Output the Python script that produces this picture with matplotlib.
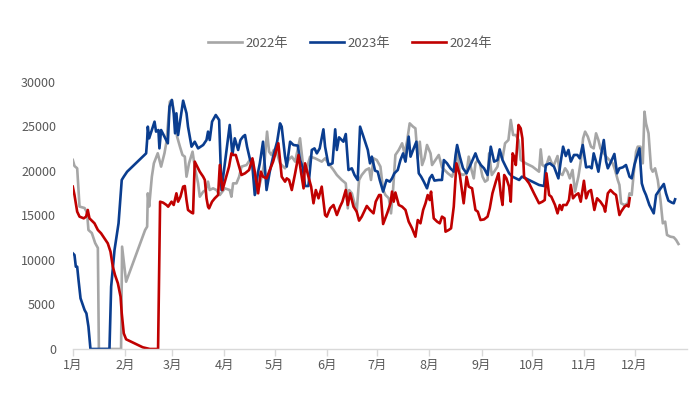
import matplotlib
matplotlib.use("Agg")
import matplotlib.pyplot as plt

plt.rcParams['font.family'] = ['Noto Sans CJK SC', 'DejaVu Sans']

# ---- data (x = day of year, y = value) ----
days_2022 = [0, 1.0, 2.6, 4.0, 7.0, 8.5, 9.3, 11.3, 13.3, 14.9, 15.5, 28.7, 29.3, 31.7, 43.0, 44.2, 44.6, 45.4,
             47.0, 48.2, 50.5, 52.5, 54.5, 55.7, 57.7, 58.9, 61.2, 62.0, 63.7, 65.2, 66.6, 67.6, 69.1, 71.2, 72.5,
             74.5, 75.5, 77.5, 79.1, 80.4, 81.4, 83.4, 85.4, 87.4, 90.4, 93.3, 94.3, 95.3, 97.3, 98.9, 100.3, 103.3,
             105.2, 107.2, 108.8, 110.8, 112.8, 114.1, 115.5, 116.7, 118.1, 119.5, 121.1, 123.2, 126.2, 128.2, 130.2,
             132.2, 135.1, 137.2, 139.1, 141.1, 144.1, 148.0, 150.0, 152.0, 155.0, 157.0, 159.9, 162.3, 163.5, 164.3,
             165.9, 167.5, 168.8, 170.2, 171.8, 174.2, 176.2, 177.3, 178.8, 180.7, 182.9, 184.5, 185.9, 187.9, 189.2,
             190.4, 191.8, 193.8, 195.8, 197.2, 198.7, 200.3, 202.3, 203.7, 205.1, 206.3, 207.7, 209.1, 210.6, 212.7,
             213.6, 215.6, 217.6, 219.5, 221.0, 223.0, 225.5, 227.0, 228.5, 230.1, 232.0, 234.1, 235.4, 236.8, 238.4,
             239.4, 240.8, 242.0, 243.6, 245.1, 246.6, 247.5, 249.1, 250.5, 252.5, 253.8, 255.5, 257.0, 259.0, 260.4,
             261.8, 263.4, 265.0, 266.3, 269.3, 273.3, 277.2, 278.2, 279.2, 281.2, 283.2, 284.8, 286.1, 288.2, 289.5,
             291.1, 292.7, 294.1, 295.5, 297.1, 298.6, 300.6, 302.0, 303.4, 304.6, 306.2, 308.1, 309.7, 311.1, 312.5,
             313.7, 315.1, 317.1, 319.1, 321.0, 322.4, 324.0, 325.0, 326.0, 328.0, 330.0, 331.0, 332.3, 333.5, 334.9,
             335.9, 337.5, 338.9, 339.9, 340.8, 342.3, 343.8, 344.8, 346.2, 347.8, 349.4, 350.8, 352.2, 353.3, 355.3,
             357.3, 358.7, 360.1]
vals_2022 = [21240, 20560, 20300, 16000, 15840, 15280, 13370, 13030, 11900, 11350, 0, 0, 11500, 7560, 13370, 13740,
             17490, 16000, 19360, 20860, 21990, 20490, 21990, 23300, 27790, 27975, 25500, 23860, 22730, 21800, 21610,
             19360, 20860, 22170, 20490, 18610, 17110, 17670, 17860, 18800, 17860, 18050, 17860, 17300, 18050, 17860,
             17110, 18610, 18610, 19360, 20490, 20670, 21230, 21050, 17490, 18240, 19740, 21230, 24420, 22170, 21800,
             22360, 22170, 20860, 20300, 21240, 21610, 21050, 23670, 20110, 20300, 21610, 21420, 21050, 21420, 20860,
             20110, 19550, 18990, 18610, 15800, 17860, 17490, 16370, 15430, 18990, 19550, 20110, 20300, 18990, 21420,
             21240, 20490, 17860, 17300, 16930, 15240, 17860, 21800, 22360, 23110, 21980, 23290, 25350, 24980, 24790,
             21420, 23290, 20670, 21420, 22920, 21980, 20670, 21230, 21800, 20410, 20110, 19740, 19360, 20300, 22540,
             19740, 19550, 19740, 21610, 20300, 19170, 20860, 21230, 20860, 19360, 18800, 18990, 21980, 19550, 19920,
             20490, 21980, 21420, 23110, 23480, 25730, 24040, 24040, 23480, 21230, 20860, 20490, 19920, 22430, 20670,
             20410, 21610, 20860, 20670, 21680, 19740, 19550, 20300, 19920, 19170, 20110, 17680, 19360, 21050, 23670,
             24420, 23860, 22730, 22540, 24230, 23480, 22540, 22170, 21610, 21230, 20860, 20110, 18990, 18430, 16370,
             16180, 16370, 17490, 17300, 19740, 22170, 22730, 22730, 20860, 26660, 25350, 24230, 20300, 19920, 20300,
             18990, 16740, 14120, 14310, 12810, 12620, 12550, 12250, 11800]

days_2023 = [0, 1.0, 1.8, 2.6, 3.4, 4.6, 7.0, 8.1, 9.3, 10.5, 21.8, 22.8, 24.8, 27.2, 29.1, 30.3, 32.3, 43.6, 44.2,
             44.6, 45.4, 47.0, 48.6, 49.5, 50.9, 51.5, 52.5, 54.5, 56.5, 57.5, 58.9, 60.0, 60.8, 61.6, 62.6, 65.6,
             67.6, 68.5, 70.6, 72.5, 74.5, 77.5, 79.5, 80.4, 81.4, 82.8, 85.0, 87.0, 88.4, 90.4, 93.3, 94.9, 96.3,
             98.3, 99.7, 101.2, 102.4, 103.6, 105.2, 106.8, 108.2, 110.2, 111.2, 113.1, 115.2, 117.1, 119.1, 121.5,
             123.2, 124.2, 126.2, 127.2, 129.2, 131.2, 133.8, 135.1, 136.7, 138.1, 140.1, 142.1, 143.7, 145.1, 146.8,
             149.0, 150.0, 152.0, 154.4, 156.0, 157.0, 158.3, 160.9, 162.3, 163.9, 165.9, 167.5, 169.4, 170.8, 172.8,
             175.4, 176.7, 177.8, 179.7, 181.3, 182.5, 184.5, 186.5, 188.5, 189.8, 191.2, 193.2, 194.8, 196.4, 197.8,
             199.7, 200.8, 202.3, 204.3, 205.7, 207.1, 208.7, 210.6, 212.2, 213.6, 215.0, 217.6, 219.5, 220.6, 222.5,
             224.5, 226.5, 227.6, 228.5, 230.1, 232.0, 234.1, 236.4, 239.4, 240.8, 242.6, 244.5, 246.6, 248.5, 250.5,
             252.5, 253.8, 255.5, 257.4, 259.4, 261.4, 263.4, 265.4, 267.0, 269.3, 273.3, 277.2, 280.2, 281.2, 283.6,
             286.1, 288.7, 290.1, 291.5, 293.1, 294.7, 296.1, 298.0, 300.0, 301.4, 303.2, 305.2, 307.2, 308.5, 309.7,
             311.1, 312.5, 314.1, 315.7, 317.1, 318.1, 320.0, 322.0, 323.6, 325.0, 327.0, 328.9, 331.0, 332.3, 333.9,
             335.3, 336.9, 338.3, 339.5, 340.8, 342.8, 345.4, 346.8, 348.8, 351.4, 352.7, 354.1, 356.1, 357.3, 358.1]
vals_2023 = [10748, 10560, 9250, 9250, 7750, 5690, 4380, 4000, 2510, 0, 0, 7000, 11120, 14120, 18990, 19360, 19920,
             21980, 23480, 24980, 23670, 24600, 25540, 24420, 24600, 22540, 24600, 23860, 23110, 27230, 27975, 26480,
             24230, 26480, 24040, 27900, 26480, 24980, 22730, 23290, 22540, 22920, 23480, 24420, 23480, 25540, 26290,
             25730, 17860, 20860, 25170, 21800, 23670, 22360, 23480, 23860, 24040, 22730, 21420, 20490, 17300, 19920,
             20860, 23290, 17860, 19920, 21610, 23300, 25350, 24980, 21610, 20490, 23290, 22920, 22850, 21240, 20410,
             18310, 18310, 22360, 22540, 21980, 22540, 24680, 22730, 20670, 20860, 24680, 22360, 23780, 23290, 24150,
             20110, 20300, 19550, 18990, 24980, 23860, 22360, 20860, 21610, 20040, 19920, 18990, 17680, 18990, 18800,
             19170, 19740, 20110, 21230, 21980, 21050, 23860, 21610, 22360, 23290, 19740, 19360, 18800, 18050, 19170,
             19550, 18920, 18990, 18990, 21230, 20860, 20300, 19920, 21800, 22920, 21610, 20300, 19740, 20670, 21980,
             21230, 20670, 20300, 19550, 22730, 21050, 21230, 22430, 21230, 20490, 19740, 19360, 19170, 18990, 19360,
             19170, 18800, 18430, 18310, 20670, 20860, 20490, 19170, 21050, 22730, 21680, 22360, 21050, 21800, 21800,
             21420, 22920, 20410, 20490, 20300, 21980, 21050, 19920, 21800, 23480, 21050, 20300, 21050, 21910, 19740,
             20300, 20410, 20670, 19360, 19170, 20670, 21610, 22540, 18610, 17860, 17300, 16180, 15240, 17300, 17860,
             18540, 17490, 16670, 16450, 16370, 16820]

days_2024 = [0, 1.0, 2.6, 4.0, 6.5, 7.9, 8.9, 9.9, 12.9, 14.9, 16.8, 18.8, 20.8, 22.4, 23.8, 25.1, 26.8, 28.4, 29.1,
             30.3, 31.7, 36.7, 41.6, 45.8, 50.7, 51.9, 53.7, 55.7, 56.7, 58.7, 60.0, 61.6, 62.6, 64.0, 65.6, 66.6,
             67.6, 68.5, 70.6, 71.5, 72.5, 75.5, 77.5, 78.5, 79.5, 80.4, 81.0, 82.8, 84.4, 86.4, 87.4, 89.0, 90.4,
             92.9, 94.3, 95.3, 96.9, 98.3, 100.3, 102.4, 104.8, 106.8, 108.2, 110.2, 111.8, 113.1, 115.2, 117.1,
             119.1, 120.8, 122.2, 123.3, 124.2, 126.2, 127.2, 128.6, 130.2, 132.2, 134.2, 135.8, 137.2, 138.1, 140.1,
             141.7, 143.1, 144.5, 146.1, 148.0, 150.0, 151.0, 153.0, 155.0, 157.0, 158.9, 160.3, 162.3, 163.5, 164.9,
             166.9, 168.8, 170.2, 171.8, 174.8, 176.7, 178.8, 180.1, 182.1, 183.1, 184.5, 186.9, 188.9, 189.8, 190.8,
             191.8, 193.8, 195.8, 197.8, 199.7, 201.7, 203.7, 205.1, 206.7, 208.3, 209.7, 211.0, 212.2, 213.0, 214.6,
             216.6, 218.2, 219.5, 221.0, 221.6, 223.5, 224.9, 226.5, 228.1, 230.1, 232.4, 234.1, 235.4, 237.4, 239.4,
             240.8, 242.4, 244.5, 246.6, 247.9, 249.5, 251.5, 253.1, 254.5, 255.5, 256.5, 257.8, 259.4, 260.4, 261.5,
             262.4, 263.4, 265.0, 266.3, 267.3, 268.3, 271.3, 274.2, 277.2, 279.2, 280.6, 281.6, 283.2, 284.5, 286.7,
             288.2, 289.5, 290.7, 291.5, 293.5, 295.0, 296.1, 297.4, 299.0, 300.6, 302.0, 303.9, 305.2, 306.6, 308.1,
             309.1, 310.1, 311.7, 313.7, 315.7, 316.5, 318.1, 319.7, 321.6, 323.0, 324.0, 325.0, 326.0, 328.0, 329.6,
             330.4, 331.1]
vals_2024 = [18240, 17300, 15430, 14870, 14680, 14870, 15620, 14680, 14120, 13370, 13000, 12430, 11870, 10940, 9250,
             8310, 7380, 5880, 4010, 1760, 1090, 640, 190, 0, 0, 16550, 16440, 16180, 15990, 16550, 16180, 17490, 16550,
             17110, 18240, 18310, 16740, 15620, 15320, 15240, 21050, 19920, 19360, 18990, 16930, 15990, 15800, 16550,
             16930, 17300, 20670, 17860, 18800, 20490, 21980, 21800, 21800, 20860, 19550, 19740, 20110, 21420, 19920,
             17490, 19920, 19360, 19170, 20110, 21050, 22170, 23110, 21050, 19360, 18800, 19170, 18990, 17860, 19740,
             21800, 19740, 18050, 20860, 19360, 18240, 16370, 17860, 16930, 18240, 15050, 14870, 15800, 16180, 15050,
             15990, 16550, 17860, 16180, 17490, 15990, 15430, 14420, 14870, 16070, 15620, 15240, 16550, 17300, 17300,
             14040, 15240, 16370, 17680, 16550, 17580, 16180, 15990, 15620, 14310, 13560, 12620, 14490, 14120, 15620,
             16370, 17300, 16740, 17680, 14680, 14310, 14120, 14870, 14680, 13180, 13370, 13560, 15990, 20860, 19550,
             16370, 19360, 18240, 18050, 15620, 15430, 14490, 14560, 14870, 15800, 17490, 18800, 19740, 17300, 16180,
             19550, 19170, 18240, 16550, 21980, 21610, 20670, 25170, 24790, 23670, 19360, 18610, 17490, 16370, 16550,
             16740, 19740, 17300, 17110, 16180, 15240, 16180, 15620, 16180, 16180, 16740, 18430, 16930, 17300, 17490,
             16550, 18900, 16930, 17680, 17860, 16740, 15620, 16930, 16550, 15990, 15430, 17490, 17860, 17490, 17300,
             16180, 15050, 15430, 15990, 16180, 16000, 16930]

month_starts = [0, 31, 59, 90, 120, 151, 181, 212, 243, 273, 304, 334]
month_labels = ['1月', '2月', '3月', '4月', '5月', '6月', '7月', '8月', '9月', '10月', '11月', '12月']
y_ticks = [0, 5000, 10000, 15000, 20000, 25000, 30000]
series_names = ['2022年', '2023年', '2024年']
series_colors = ['#A6A6A6', '#0A3D8F', '#C00000']

fig = plt.figure(figsize=(7.0, 3.96), dpi=100)
ax = fig.add_axes([0.104, 0.1187, 0.877, 0.6743])

for d, v, name, c in zip([days_2022, days_2023, days_2024],
                         [vals_2022, vals_2023, vals_2024],
                         series_names, series_colors):
    ax.plot(d, v, color=c, lw=1.9, label=name, solid_joinstyle='round')

ax.set_xlim(0, 365)
ax.set_ylim(0, 30000)
ax.set_xticks(month_starts)
ax.set_xticklabels(month_labels)
ax.set_yticks(y_ticks)
ax.set_yticklabels([str(t) for t in y_ticks])

for s in ['top', 'right', 'left']:
    ax.spines[s].set_visible(False)
ax.spines['bottom'].set_color('#D9D9D9')
ax.spines['bottom'].set_linewidth(1.0)
ax.tick_params(axis='x', direction='out', length=5, width=1.0, color='#D9D9D9',
               labelsize=9, labelcolor='#595959', pad=2)
ax.tick_params(axis='y', length=0, labelsize=9, labelcolor='#595959', pad=12)

fig.legend(loc='center', bbox_to_anchor=(0.5, 0.89), ncol=3, frameon=False,
           fontsize=9.5, handlelength=2.6, handletextpad=0.3, columnspacing=1.6,
           labelcolor='#595959')

fig.savefig('out.png', dpi=100)
